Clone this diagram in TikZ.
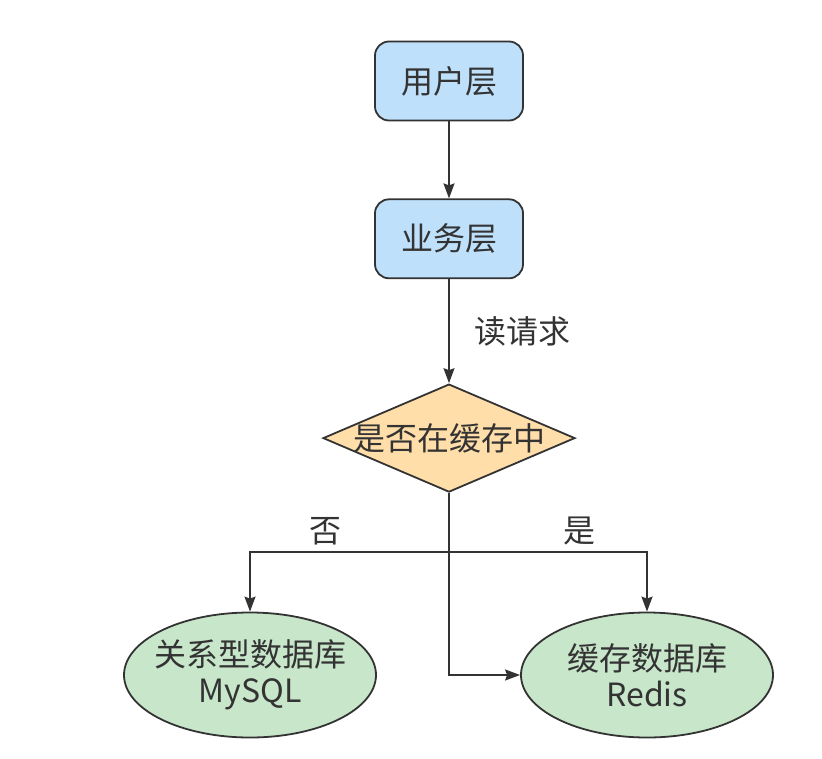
\documentclass[tikz,border=0pt]{standalone}
\usepackage{fontspec}
\setmainfont{Noto Sans CJK SC}
\usepackage{tikz}
\usetikzlibrary{arrows.meta,positioning,shapes.geometric}
\usepackage{xcolor}
\definecolor{layerblue}{RGB}{190,224,250}
\definecolor{checkorange}{RGB}{255,222,170}
\definecolor{storegreen}{RGB}{200,230,202}
\definecolor{inkgray}{RGB}{51,51,51}

\begin{document}
\begin{tikzpicture}[
    x=1pt, y=-1pt,
    node distance=77pt,
    layer/.style={rectangle, draw=inkgray, line width=1.8pt, rounded corners=14pt, fill=layerblue, minimum width=148pt, minimum height=79pt, font=\fontsize{32}{36}\selectfont, text=inkgray},
    check/.style={diamond, draw=inkgray, line width=1.8pt, fill=checkorange, minimum width=252pt, minimum height=108pt, inner sep=0pt, font=\fontsize{32}{36}\selectfont, text=inkgray},
    store/.style={ellipse, draw=inkgray, line width=1.8pt, fill=storegreen, minimum width=252pt, minimum height=125pt, inner xsep=-10pt, inner ysep=0pt, align=center, font=\fontsize{32}{36}\selectfont, text=inkgray},
    tag/.style={font=\fontsize{32}{36}\selectfont, text=inkgray},
    flow/.style={draw=inkgray, line width=1.8pt, -{Stealth[length=15pt, width=11pt, inset=2pt]}},
]
    \useasboundingbox (0,0) rectangle (822,758);

    \node[layer] (user) at (449,81) {用户层};
    \node[layer] (biz) [below=of user] {业务层};
    \node[check] (incache) [below=104pt of biz] {\makebox[0pt]{是否在缓存中}};
    \node[store] (mysql) at (250,675) {关系型数据库\\MySQL};
    \node[store] (redis) at (647,675) {缓存数据库\\Redis};
    \coordinate (split) at (449,552);

    \draw[flow] (user) -- (biz);
    \draw[flow] (biz) -- node[tag, right=21pt] {读请求} (incache);
    \draw[draw=inkgray, line width=1.8pt] (incache.south) -- (split);
    \draw[flow] (split) -| node[tag, pos=0.31, above, yshift=3pt] {否} (mysql.north);
    \draw[flow] (split) -| node[tag, pos=0.33, above, yshift=3pt] {是} (redis.north);
    \draw[flow] (split) |- (redis.west);
\end{tikzpicture}
\end{document}
